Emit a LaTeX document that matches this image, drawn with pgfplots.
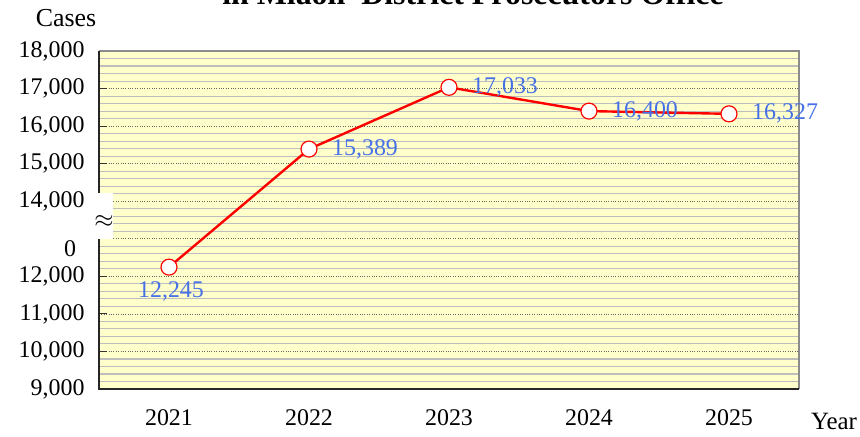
\documentclass[border=0pt]{standalone}
\usepackage{pgfplots}
\pgfplotsset{compat=1.18}
\usepackage{pgfplotstable}
\usepackage{fontspec}
\setmainfont{Liberation Serif}
\definecolor{bgy}{RGB}{255,255,204}
\definecolor{lblue}{RGB}{70,112,230}
\definecolor{mgrid}{RGB}{190,190,190}
\pgfplotstableread{
year cases label
2021 12245 12,245
2022 15389 15,389
2023 17033 17,033
2024 16400 16,400
2025 16327 16,327
}\datatab
\pgfplotstableread{
year cases label
2022 15389 15,389
2023 17033 17,033
2024 16400 16,400
2025 16327 16,327
}\rightlab
\pgfplotstableread{
year cases label
2021 12245 12,245
}\belowlab
\begin{document}
\begin{tikzpicture}[x=1bp,y=1bp]
\path[use as bounding box] (-99bp,-48bp) rectangle (761bp,389bp);
\begin{axis}[
  at={(0,0)}, anchor=south west,
  scale only axis, width=700bp, height=338bp,
  xmin=2020.5, xmax=2025.5, ymin=9000, ymax=18000,
  scaled y ticks=false,
  xtick={2021,2022,2023,2024,2025},
  xticklabels={2021,2022,2023,2024,2025},
  x tick style={draw=none},
  extra x ticks={2021.5,2022.5,2023.5,2024.5},
  extra x tick labels={},
  extra x tick style={major tick length=8bp, tick style={draw=black!80, line width=0.8bp}, grid=none},
  ytick={9000,10000,11000,12000,13000,14000,15000,16000,17000,18000},
  yticklabels={{9,000},{10,000},{11,000},{12,000},{},{14,000},{15,000},{16,000},{17,000},{18,000}},
  minor y tick num=4,
  minor tick length=0pt,
  major tick length=8bp,
  tick align=inside,
  tick pos=left,
  y tick style={draw=black!80, line width=0.9bp},
  ymajorgrids, yminorgrids,
  major grid style={black!60, dotted, line width=0.7bp},
  minor grid style={mgrid, line width=1.1bp},
  axis background/.style={fill=bgy},
  axis line style={draw=none},
  tick label style={font=\fontsize{24}{28}\selectfont},
  yticklabel style={xshift=-11bp},
  xticklabel style={yshift=-17bp},
  clip=false,
]
\draw[black!45, line width=1.2bp] (rel axis cs:0,1) -- (rel axis cs:1,1) -- (rel axis cs:1,0);
\draw[black!85, line width=1.6bp] (rel axis cs:1,0) -- (rel axis cs:0,0) -- (rel axis cs:0,1);
\addplot[red, line width=2.4bp, mark=*, mark size=8bp, mark options={fill=white, draw=red, line width=1.2bp}] table[x=year, y=cases] {\datatab};
\addplot[draw=none, point meta=explicit symbolic, nodes near coords,
  every node near coord/.append style={anchor=west, inner sep=0pt, xshift=23bp, text=lblue, font=\fontsize{24}{28}\selectfont}]
  table[x=year, y=cases, meta=label] {\rightlab};
\addplot[draw=none, point meta=explicit symbolic, nodes near coords,
  every node near coord/.append style={anchor=north, inner sep=0pt, xshift=2bp, yshift=-14bp, text=lblue, font=\fontsize{24}{28}\selectfont}]
  table[x=year, y=cases, meta=label] {\belowlab};
\end{axis}
% axis break decoration
\fill[white] (-9bp,150bp) rectangle (14bp,196bp);
\node[font=\fontsize{24}{28}\selectfont, inner sep=0pt] at (5bp,167bp) {$\approx$};
\node[font=\fontsize{24}{28}\selectfont, inner sep=0pt, anchor=center] at (-29bp,140bp) {0};
\begin{scope}
\clip (-87bp,130bp) rectangle (-84bp,149bp);
\node[font=\fontsize{24}{28}\selectfont, inner sep=0pt, anchor=center] at (-80bp,142bp) {1};
\end{scope}
\node[font=\fontsize{26}{30}\selectfont, inner sep=0pt] at (-33bp,371bp) {Cases};
\node[font=\fontsize{25}{30}\selectfont, inner sep=0pt] at (735bp,-32bp) {Year};
\node[font=\bfseries\fontsize{32}{38}\selectfont, inner sep=0pt, anchor=base] at (374bp,384bp) {in Miaoli\ \ District Prosecutors Office};
\end{tikzpicture}
\end{document}
